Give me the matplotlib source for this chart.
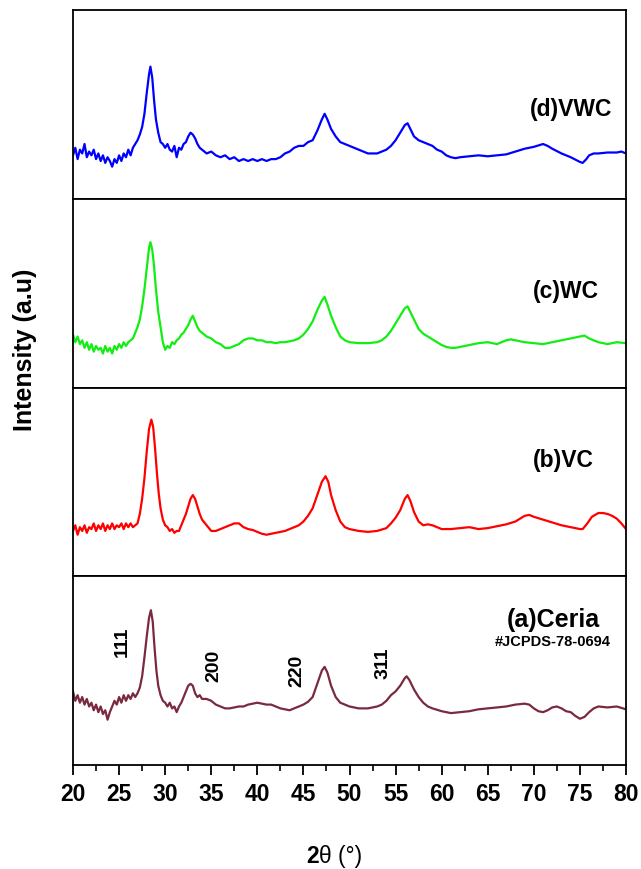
import matplotlib
matplotlib.use("Agg")
import matplotlib.pyplot as plt
from matplotlib.ticker import MultipleLocator

plt.rcParams['font.family'] = ['Liberation Sans', 'DejaVu Sans']

# ---- data (intensity in % of each panel height) ----
vwc_2theta = [20.0, 20.25, 20.5, 20.75, 21.0, 21.25, 21.5, 21.75, 22.0, 22.25, 22.5, 22.75,
              23.0, 23.25, 23.5, 23.75, 24.0, 24.25, 24.5, 24.75, 25.0, 25.25, 25.5, 25.75,
              26.0, 26.25, 26.5, 26.75, 27.0, 27.25, 27.5, 27.75, 28.0, 28.25, 28.4, 28.6,
              28.8, 29.0, 29.25, 29.5, 29.75, 30.0, 30.25, 30.5, 30.75, 31.0, 31.25, 31.5,
              31.75, 32.0, 32.25, 32.5, 32.75, 33.0, 33.25, 33.5, 33.75, 34.0, 34.5, 35.0,
              35.5, 36.0, 36.5, 37.0, 37.5, 38.0, 38.5, 39.0, 39.5, 40.0, 40.5, 41.0,
              41.5, 42.0, 42.5, 43.0, 43.5, 44.0, 44.5, 45.0, 45.5, 46.0, 46.5, 47.0,
              47.3, 47.6, 48.0, 48.5, 49.0, 49.5, 50.0, 50.5, 51.0, 51.5, 52.0, 52.5,
              53.0, 53.5, 54.0, 54.5, 55.0, 55.5, 56.0, 56.3, 56.6, 57.0, 57.5, 58.0,
              58.5, 59.0, 59.5, 60.0, 60.5, 61.0, 61.5, 62.0, 63.0, 64.0, 65.0, 66.0,
              67.0, 68.0, 69.0, 70.0, 71.0, 71.5, 72.0, 73.0, 74.0, 75.0, 75.3, 75.7,
              76.0, 76.5, 77.0, 78.0, 79.0, 79.5, 80.0]
vwc_int = [23, 27, 21, 26, 24, 29, 22, 25, 23, 26, 21, 24,
           20, 23, 19, 22, 20, 17, 21, 19, 23, 20, 24, 22,
           26, 23, 27, 29, 31, 34, 38, 45, 56, 66, 70, 64,
           52, 42, 35, 30, 29, 27, 29, 26, 25, 28, 22, 27,
           26, 29, 30, 33, 35, 34, 32, 29, 27, 26, 24, 25,
           23, 22, 23, 21, 22, 20, 21, 20, 21, 20, 21, 20,
           21, 21, 22, 24, 25, 27, 28, 28, 30, 31, 36, 42,
           45, 42, 37, 33, 30, 29, 28, 27, 26, 25, 24, 24,
           24, 25, 26, 28, 31, 35, 39, 40, 37, 33, 31, 30,
           29, 28, 26, 25, 23, 22, 21.5, 22, 22.5, 23, 22.5, 23,
           23.5, 25, 26.5, 27.5, 29, 28, 26.5, 24, 22, 19.5, 19, 21,
           23, 24, 24, 24.5, 24.5, 25, 24]

wc_2theta = [20.0, 20.25, 20.5, 20.75, 21.0, 21.25, 21.5, 21.75, 22.0, 22.25, 22.5, 22.75,
             23.0, 23.25, 23.5, 23.75, 24.0, 24.25, 24.5, 24.75, 25.0, 25.25, 25.5, 25.75,
             26.0, 26.25, 26.5, 26.75, 27.0, 27.25, 27.5, 27.75, 28.0, 28.25, 28.4, 28.6,
             28.8, 29.0, 29.25, 29.5, 29.75, 30.0, 30.25, 30.5, 30.75, 31.0, 31.25, 31.5,
             31.75, 32.0, 32.25, 32.5, 32.75, 33.0, 33.25, 33.5, 33.75, 34.0, 34.5, 35.0,
             35.5, 36.0, 36.5, 37.0, 37.5, 38.0, 38.5, 39.0, 39.5, 40.0, 40.5, 41.0,
             41.5, 42.0, 42.5, 43.0, 43.5, 44.0, 44.5, 45.0, 45.5, 46.0, 46.5, 47.0,
             47.3, 47.6, 48.0, 48.5, 49.0, 49.5, 50.0, 51.0, 52.0, 53.0, 53.5, 54.0,
             54.5, 55.0, 55.5, 56.0, 56.3, 56.6, 57.0, 57.5, 58.0, 58.5, 59.0, 59.5,
             60.0, 60.5, 61.0, 61.5, 62.0, 63.0, 64.0, 65.0, 65.5, 66.0, 67.0, 67.5,
             68.0, 69.0, 70.0, 71.0, 72.0, 73.0, 74.0, 75.0, 75.5, 76.0, 77.0, 78.0,
             79.0, 80.0]
wc_int = [28, 24, 27, 23, 25, 21, 24, 20, 23, 19, 22, 20,
          21, 18, 22, 19, 21, 18, 22, 20, 23, 21, 24, 22,
          24, 25, 26, 29, 32, 36, 43, 52, 63, 74, 77, 73,
          64, 52, 40, 32, 24, 20, 22, 21, 24, 23, 25, 26,
          28, 29, 31, 33, 36, 38, 35, 32, 30, 29, 27, 26,
          24, 23, 21, 21, 22, 23, 25, 26, 26, 25, 25, 24,
          24, 23.5, 24, 24, 24.5, 25, 26, 28, 31, 35, 41, 46,
          48, 44, 38, 32, 27, 25, 24, 23.5, 23.5, 24, 25, 27,
          30, 34, 38, 42, 43, 40, 36, 31, 28.5, 27, 25.5, 24,
          22.5, 21.5, 21, 21, 21.5, 22.5, 23.5, 24, 23.5, 23, 25, 25.5,
          25, 24, 23.5, 23, 24, 25, 26, 27, 27.5, 26, 24, 23,
          24, 23.5]

vc_2theta = [20.0, 20.25, 20.5, 20.75, 21.0, 21.25, 21.5, 21.75, 22.0, 22.25, 22.5, 22.75,
             23.0, 23.25, 23.5, 23.75, 24.0, 24.25, 24.5, 24.75, 25.0, 25.25, 25.5, 25.75,
             26.0, 26.25, 26.5, 26.75, 27.0, 27.25, 27.5, 27.75, 28.0, 28.25, 28.5, 28.7,
             28.9, 29.1, 29.3, 29.5, 29.75, 30.0, 30.25, 30.5, 30.75, 31.0, 31.25, 31.5,
             31.75, 32.0, 32.25, 32.5, 32.75, 33.0, 33.25, 33.5, 33.75, 34.0, 34.5, 35.0,
             35.5, 36.0, 36.5, 37.0, 37.5, 38.0, 38.5, 39.0, 39.5, 40.0, 40.5, 41.0,
             41.5, 42.0, 42.5, 43.0, 43.5, 44.0, 44.5, 45.0, 45.5, 46.0, 46.5, 47.0,
             47.4, 47.7, 48.0, 48.5, 49.0, 49.5, 50.0, 51.0, 52.0, 53.0, 54.0, 54.5,
             55.0, 55.5, 56.0, 56.3, 56.6, 57.0, 57.5, 58.0, 58.5, 59.0, 59.5, 60.0,
             61.0, 62.0, 63.0, 64.0, 65.0, 66.0, 67.0, 68.0, 69.0, 69.5, 70.0, 71.0,
             72.0, 73.0, 74.0, 75.0, 75.3, 75.8, 76.3, 77.0, 77.5, 78.0, 78.5, 79.0,
             79.5, 80.0]
vc_int = [24, 27, 22, 26, 24, 27, 23, 26, 25, 28, 24, 27,
          25, 28, 24, 27, 25, 28, 25, 27, 26, 28, 25, 28,
          26, 28, 26, 27, 28, 33, 41, 52, 66, 78, 83, 79,
          68, 55, 44, 36, 30, 27, 26, 24, 25, 23, 24, 24,
          27, 30, 33, 37, 41, 43, 41, 37, 33, 30, 27, 24,
          24, 25, 26, 27, 28, 28, 26, 25, 24.5, 23.5, 22.5, 22,
          22.5, 23, 23.5, 24, 25, 26, 27, 29, 32, 36, 43, 50,
          53, 50, 43, 35, 29, 26, 25, 24, 23.5, 24, 25.5, 28,
          31, 35, 41, 43, 40, 34, 29, 27, 27.5, 27, 26, 25,
          25, 25.5, 26, 25, 25.5, 26.5, 27.5, 29, 32, 32.5, 31.5, 30,
          28.5, 27, 26, 25, 25, 28, 31.5, 33.5, 33.5, 33, 32, 30.5,
          28, 25]

ceria_2theta = [20.0, 20.25, 20.5, 20.75, 21.0, 21.25, 21.5, 21.75, 22.0, 22.25, 22.5, 22.75,
                23.0, 23.25, 23.5, 23.75, 24.0, 24.25, 24.5, 24.75, 25.0, 25.25, 25.5, 25.75,
                26.0, 26.25, 26.5, 26.75, 27.0, 27.25, 27.5, 27.75, 28.0, 28.25, 28.45, 28.65,
                28.85, 29.05, 29.25, 29.5, 29.75, 30.0, 30.25, 30.5, 30.75, 31.0, 31.25, 31.5,
                31.75, 32.0, 32.25, 32.5, 32.75, 33.0, 33.25, 33.5, 33.75, 34.0, 34.5, 35.0,
                35.5, 36.0, 36.5, 37.0, 37.5, 38.0, 38.5, 39.0, 39.5, 40.0, 40.5, 41.0,
                41.5, 42.0, 42.5, 43.0, 43.5, 44.0, 44.5, 45.0, 45.5, 46.0, 46.5, 47.0,
                47.3, 47.6, 48.0, 48.5, 49.0, 49.5, 50.0, 51.0, 52.0, 53.0, 53.5, 54.0,
                54.5, 55.0, 55.5, 56.0, 56.2, 56.5, 57.0, 57.5, 58.0, 58.5, 59.0, 60.0,
                61.0, 62.0, 63.0, 64.0, 65.0, 66.0, 67.0, 68.0, 69.0, 69.5, 70.0, 70.5,
                71.0, 71.5, 72.0, 72.5, 73.0, 73.5, 74.0, 74.5, 75.0, 75.5, 76.0, 76.5,
                77.0, 78.0, 79.0, 80.0]
ceria_int = [39, 34, 37, 33, 36, 32, 35, 31, 33, 29, 32, 28,
             31, 27, 29, 24, 28, 31, 34, 32, 36, 33, 37, 34,
             37, 35, 38, 36, 38, 41, 47, 57, 68, 78, 82, 76,
             62, 50, 42, 37, 34, 33, 31, 33, 30, 31, 28, 31,
             33, 36, 39, 42, 43, 42, 38, 36, 37, 35, 35, 34,
             32, 31, 30, 30, 30.5, 31, 31, 32, 32.5, 33, 32.5, 32,
             32, 31, 30, 29.5, 29, 30, 31, 32, 33.5, 36, 43, 50,
             52, 49, 42, 36, 33, 32, 31, 30, 30, 31, 32, 34,
             37, 39, 42, 46, 47, 45, 40, 36, 33, 31, 30, 28.5,
             27.5, 28, 28.5, 29.5, 30, 30.5, 31, 32, 32.5, 32, 30, 28.5,
             28, 29, 30.5, 31, 30, 28.5, 28, 26, 24.5, 25.5, 28, 30,
             31, 30.5, 31, 29.5]

series_x = [vwc_2theta, wc_2theta, vc_2theta, ceria_2theta]
series_y = [vwc_int, wc_int, vc_int, ceria_int]
colors = ['#0000FF', '#11EE11', '#FF0000', '#7A2A3E']
names = ['(d)VWC', '(c)WC', '(b)VC', '(a)Ceria']
name_pos = [(74.0, 48), (73.5, 51.5), (73.2, 62), (72.1, 77.6)]
name_size = [16.5, 16.5, 16.5, 18]

hkl_labels = ['111', '200', '220', '311']
hkl_x = [25.3, 35.3, 44.3, 53.6]
hkl_y = [65.7, 52.8, 50.6, 54.2]

fig, axes = plt.subplots(4, 1, sharex=True, figsize=(6.41, 8.70), dpi=100)
fig.subplots_adjust(left=73/641, right=626/641, top=1-11/870, bottom=1-766/870, hspace=0)

for ax, x, y, c, nm, pos, fs in zip(axes, series_x, series_y, colors, names, name_pos, name_size):
    ax.plot(x, y, color=c, lw=1.6)
    ax.set_xlim(20, 80)
    ax.set_ylim(0, 100)
    ax.set_yticks([])
    ax.text(pos[0], pos[1], nm, ha='center', va='center', fontsize=fs, fontweight='bold')
    for s in ax.spines.values():
        s.set_linewidth(1.3)
    ax.tick_params(axis='x', which='both', bottom=False, labelbottom=False)

# annotations on the ceria panel
ax = axes[3]
ax.text(72.1, 65.7, '#JCPDS-78-0694', ha='center', va='center', fontsize=10.5, fontweight='bold')
for lab, hx, hy in zip(hkl_labels, hkl_x, hkl_y):
    ax.text(hx, hy, lab, rotation=90, ha='center', va='center', fontsize=14, fontweight='bold')

ax.xaxis.set_major_locator(MultipleLocator(5))
ax.xaxis.set_minor_locator(MultipleLocator(2.5))
ax.tick_params(axis='x', which='both', bottom=True, labelbottom=True, direction='out')
ax.tick_params(axis='x', which='major', length=7, width=1.3, labelsize=16.5, pad=5)
ax.tick_params(axis='x', which='minor', length=4, width=1.2)
for lbl in ax.get_xticklabels():
    lbl.set_fontweight('bold')

fig.text(25/641, 1-350/870, 'Intensity (a.u)', rotation=90, ha='center', va='center',
         fontsize=18, fontweight='bold')
fig.text(319/641, 1-857/870, '2', ha='right', va='center', fontsize=16.5, fontweight='bold')
fig.text(319/641, 1-857/870, 'θ (°)', ha='left', va='center', fontsize=16.5)

fig.savefig('out.png', dpi=100)
